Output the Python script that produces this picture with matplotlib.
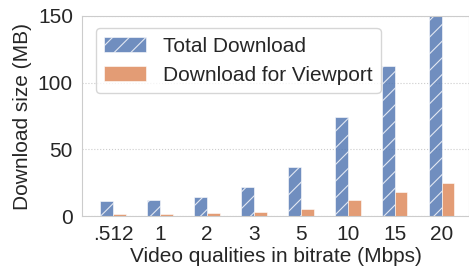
import numpy as np
import matplotlib.pyplot as plt
import seaborn as sns

sns.set_style("whitegrid")
plt.rcParams["font.family"] = ["Liberation Sans", "DejaVu Sans"]
plt.rcParams["hatch.linewidth"] = 0.8

labels = [".512", "1", "2", "3", "5", "10", "15", "20"]
total = [11.2, 12, 14.5, 22, 37, 74.5, 112.7, 150]
viewport = [1.5, 1.5, 2.2, 3, 5.5, 11.7, 18, 24.5]

x = np.arange(len(labels))
w = 0.27

fig = plt.figure(figsize=(4.69, 2.66), dpi=100)
ax = fig.add_axes([82 / 469, 50 / 266, 1 - 82 / 469, 200 / 266])

pal = sns.color_palette("deep")
ax.bar(x - w / 2, total, w, color=pal[0], alpha=0.8, hatch="//",
       edgecolor="white", linewidth=0.5, label="Total Download")
ax.bar(x + w / 2, viewport, w, color=pal[1], alpha=0.8,
       edgecolor="white", linewidth=0.5, label="Download for Viewport")

ax.set_xticks(x)
ax.set_xticklabels(labels)
ax.set_xlim(-0.66, 7.58)
ax.set_ylim(0, 150)
ax.set_yticks([0, 50, 100, 150])
ax.tick_params(labelsize=15, pad=3)
ax.grid(axis="x", visible=False)
ax.grid(axis="y", linestyle=":", linewidth=0.8)
ax.set_axisbelow(True)

ax.set_xlabel("Video qualities in bitrate (Mbps)", fontsize=15, labelpad=2)
ax.set_ylabel("Download size (MB)", fontsize=15, labelpad=4)
ax.legend(loc="upper left", fontsize=15, bbox_to_anchor=(0.02, 0.97),
          borderaxespad=0.3)

fig.savefig("out.png", dpi=100)
